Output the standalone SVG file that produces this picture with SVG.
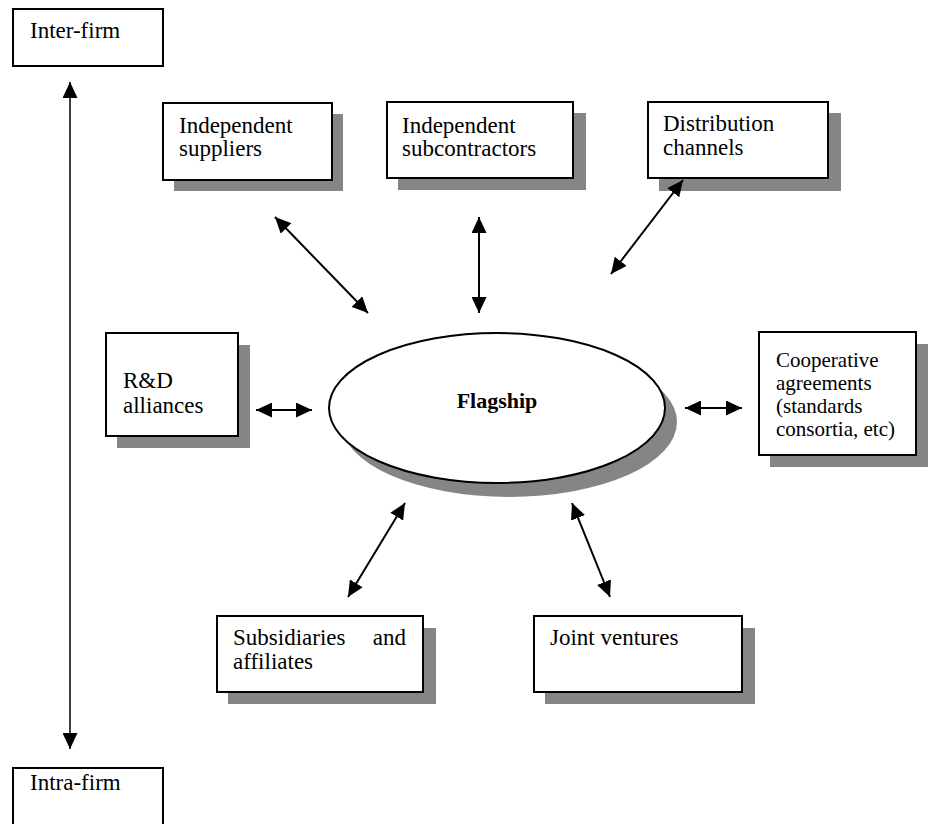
<svg xmlns="http://www.w3.org/2000/svg" width="928" height="824" viewBox="0 0 928 824">
<defs>
<marker id="ah" markerUnits="userSpaceOnUse" markerWidth="16" markerHeight="15" refX="16" refY="7.5" orient="auto-start-reverse" viewBox="0 0 16 15">
<path d="M0,0 L16,7.5 L0,15 z" fill="#000"/>
</marker>
<style>
.box{fill:#fff;stroke:#000;stroke-width:2}
.sh{fill:#858585}
.t{font-family:"Liberation Serif","Times New Roman",serif;font-size:23px;fill:#000}
.s{font-size:21px}
.b{font-weight:bold;font-size:22px}
.c{stroke:#000;stroke-width:2;fill:none;marker-start:url(#ah);marker-end:url(#ah)}
</style>
</defs>
<rect width="928" height="824" fill="#fff"/>

<g id="inter-firm">
<rect class="box" x="13" y="9" width="150" height="57"/>
<text class="t" x="30" y="38">Inter-firm</text>
</g>

<g id="intra-firm">
<rect class="box" x="13" y="768" width="150" height="70"/>
<text class="t" x="30" y="790">Intra-firm</text>
</g>

<g id="suppliers">
<rect class="sh" x="174" y="114" width="169" height="77"/>
<rect class="box" x="163" y="103" width="169" height="77"/>
<text class="t" x="179" y="133">Independent</text>
<text class="t" x="179" y="156">suppliers</text>
</g>

<g id="subcontractors">
<rect class="sh" x="398" y="113" width="188" height="77"/>
<rect class="box" x="387" y="102" width="186" height="76"/>
<text class="t" x="402" y="133">Independent</text>
<text class="t" x="402" y="156">subcontractors</text>
</g>

<g id="distribution">
<rect class="sh" x="659" y="113" width="182" height="78"/>
<rect class="box" x="648" y="102" width="180" height="76"/>
<text class="t" x="663" y="131">Distribution</text>
<text class="t" x="663" y="155">channels</text>
</g>

<g id="rnd">
<rect class="sh" x="117" y="345" width="133" height="103"/>
<rect class="box" x="106" y="333" width="132" height="103"/>
<text class="t" x="123" y="388">R&amp;D</text>
<text class="t" x="123" y="413">alliances</text>
</g>

<g id="cooperative">
<rect class="sh" x="770" y="344" width="158" height="123"/>
<rect class="box" x="759" y="332" width="157" height="123"/>
<text class="t s" x="776" y="367">Cooperative</text>
<text class="t s" x="776" y="390">agreements</text>
<text class="t s" x="776" y="413">(standards</text>
<text class="t s" x="776" y="436">consortia, etc)</text>
</g>

<g id="subsidiaries">
<rect class="sh" x="228" y="628" width="208" height="76"/>
<rect class="box" x="217" y="616" width="206" height="76"/>
<text class="t" x="233" y="645">Subsidiaries</text>
<text class="t" x="406" y="645" text-anchor="end">and</text>
<text class="t" x="233" y="669">affiliates</text>
</g>

<g id="joint-ventures">
<rect class="sh" x="545" y="628" width="210" height="76"/>
<rect class="box" x="534" y="616" width="208" height="76"/>
<text class="t" x="550" y="645">Joint ventures</text>
</g>

<g id="flagship">
<ellipse class="sh" cx="509" cy="422" rx="168" ry="75"/>
<ellipse cx="497" cy="408" rx="168" ry="75" fill="#fff" stroke="#000" stroke-width="2"/>
<text class="t b" x="497" y="408" text-anchor="middle">Flagship</text>
</g>

<g id="connectors">
<line class="c" x1="70" y1="82" x2="70" y2="749" style="stroke-width:1.5"/>
<line class="c" x1="275" y1="217" x2="368" y2="313"/>
<line class="c" x1="479" y1="217" x2="479" y2="313"/>
<line class="c" x1="683" y1="180" x2="611" y2="274"/>
<line class="c" x1="256" y1="410" x2="312" y2="410"/>
<line class="c" x1="685" y1="408" x2="742" y2="408"/>
<line class="c" x1="405" y1="503" x2="348" y2="597"/>
<line class="c" x1="572" y1="503" x2="610" y2="597"/>
</g>
</svg>
